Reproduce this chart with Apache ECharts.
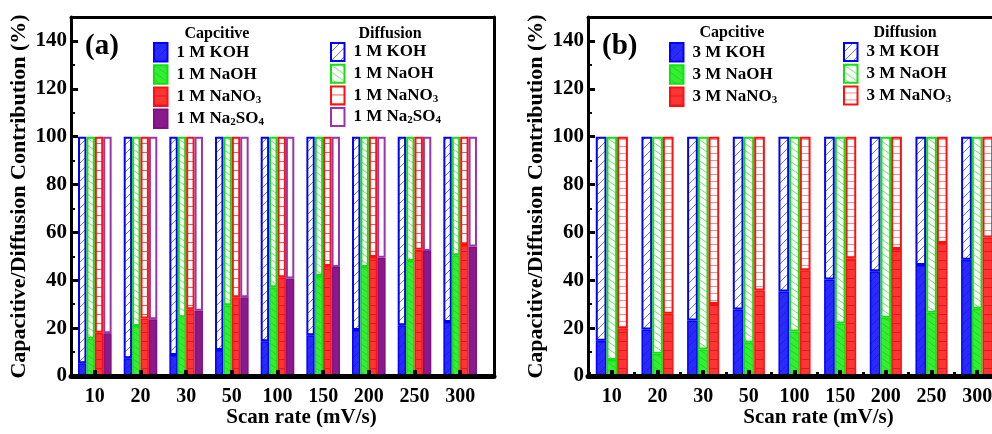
<!DOCTYPE html>
<html>
<head>
<meta charset="utf-8">
<script src="https://cdn.jsdelivr.net/npm/echarts@6/dist/echarts.min.js"></script>
<style>html,body{margin:0;padding:0;background:#fff}#c{width:992px;height:434px}</style>
</head>
<body>
<div id="c"></div>
<script>
const categories = ['10','20','30','50','100','150','200','250','300'];
const yTicks = [0,20,40,60,80,100,120,140];

// Panel (a): 1 M electrolytes
const capA_KOH    = [5.3, 7.4, 8.8, 10.9, 14.5, 17.0, 19.2, 21.2, 22.6];
const capA_NaOH   = [15.6, 20.9, 24.5, 29.6, 37.1, 41.8, 45.5, 48.0, 50.5];
const capA_NaNO3  = [18.1, 24.0, 27.9, 32.9, 41.3, 46.0, 49.7, 52.7, 54.7];
const capA_Na2SO4 = [17.9, 23.7, 27.3, 32.9, 40.7, 45.5, 49.4, 52.2, 54.1];
const difA_KOH    = [94.7, 92.6, 91.2, 89.1, 85.5, 83.0, 80.8, 78.8, 77.4];
const difA_NaOH   = [84.4, 79.1, 75.5, 70.4, 62.9, 58.2, 54.5, 52.0, 49.5];
const difA_NaNO3  = [81.9, 76.0, 72.1, 67.1, 58.7, 54.0, 50.3, 47.3, 45.3];
const difA_Na2SO4 = [82.1, 76.3, 72.7, 67.1, 59.3, 54.5, 50.6, 47.8, 45.9];

// Panel (b): 3 M electrolytes
const capB_KOH    = [14.7, 19.4, 23.2, 27.8, 35.3, 40.3, 43.8, 46.4, 48.6];
const capB_NaOH   = [6.7, 9.3, 11.1, 13.9, 18.6, 21.9, 24.3, 26.4, 28.1];
const capB_NaNO3  = [19.9, 26.0, 30.1, 35.7, 44.2, 49.2, 53.1, 55.6, 57.9];
const difB_KOH    = [85.3, 80.6, 76.8, 72.2, 64.7, 59.7, 56.2, 53.6, 51.4];
const difB_NaOH   = [93.3, 90.7, 88.9, 86.1, 81.4, 78.1, 75.7, 73.6, 71.9];
const difB_NaNO3  = [80.1, 74.0, 69.9, 64.3, 55.8, 50.8, 46.9, 44.4, 42.1];

const labelMap = {
  aCK: '1 M KOH', aCN: '1 M NaOH', aCO: '1 M NaNO{s|3}', aCS: '1 M Na{s|2}SO{s|4}',
  aDK: '1 M KOH', aDN: '1 M NaOH', aDO: '1 M NaNO{s|3}', aDS: '1 M Na{s|2}SO{s|4}',
  bCK: '3 M KOH', bCN: '3 M NaOH', bCO: '3 M NaNO{s|3}',
  bDK: '3 M KOH', bDN: '3 M NaOH', bDO: '3 M NaNO{s|3}'
};

const FONT = 'Liberation Serif';

function pat(kind, color, bg, w, h) {
  const c = document.createElement('canvas');
  c.width = w; c.height = h;
  const g = c.getContext('2d');
  g.fillStyle = bg; g.fillRect(0, 0, w, h);
  g.strokeStyle = color; g.lineWidth = 1;
  g.beginPath();
  if (kind === '/') {
    g.moveTo(0, h); g.lineTo(w, 0);
    g.moveTo(-w, h); g.lineTo(0, 0);
    g.moveTo(w, h); g.lineTo(2 * w, 0);
  } else if (kind === '\\') {
    g.moveTo(0, 0); g.lineTo(w, h);
    g.moveTo(-w, 0); g.lineTo(0, h);
    g.moveTo(w, 0); g.lineTo(2 * w, h);
  } else if (kind === '-') {
    g.moveTo(0, h - 0.5); g.lineTo(w, h - 0.5);
  }
  g.stroke();
  return { image: c, repeat: 'repeat' };
}

const C = {
  blue:   { fill: '#2a2aff', line: '#0000ff' },
  green:  { fill: '#33ee33', line: '#11e011' },
  red:    { fill: '#ff3535', line: '#ff1010' },
  purple: { fill: '#8a1a8a', line: '#7f0f85', dline: '#9a35b0' }
};

function capSeries(name, data, stack, col, xi, yi, bw, pattern) {
  return {
    name, type: 'bar', stack, data, xAxisIndex: xi, yAxisIndex: yi,
    barWidth: bw, barGap: '0%',
    itemStyle: { color: pattern || col.fill, borderColor: col.line, borderWidth: 1.5 },
    emphasis: { disabled: true }, animation: false
  };
}
function difSeries(name, data, stack, col, xi, yi, bw, pattern) {
  return {
    name, type: 'bar', stack, data, xAxisIndex: xi, yAxisIndex: yi,
    barWidth: bw, barGap: '0%',
    itemStyle: { color: pattern, borderColor: col.dline || col.line, borderWidth: 2 },
    emphasis: { disabled: true }, animation: false
  };
}

const pBlueD = pat('/', 'rgba(60,60,255,0.75)', '#ffffff', 9, 9);
const pGreenD = pat('\\', 'rgba(40,220,40,0.75)', '#ffffff', 10, 7);
const pRedD = pat('-', 'rgba(255,40,40,0.8)', '#ffffff', 8, 9);
const pRedDb = pat('-', 'rgba(255,60,60,0.6)', '#ffffff', 8, 7);
const pNone = pat('none', '#fff', '#ffffff', 4, 4);
const pBlueC = pat('/', 'rgba(20,20,200,0.5)', C.blue.fill, 9, 9);
const pGreenC = pat('\\', 'rgba(20,190,20,0.5)', C.green.fill, 10, 7);
const pRedC = pat('-', 'rgba(200,20,20,0.7)', C.red.fill, 8, 9);

const txt = (size, extra) => Object.assign({ fontFamily: FONT, fontWeight: 'bold', color: '#000', fontSize: size }, extra || {});
const richLegend = {
  s: { fontFamily: FONT, fontWeight: 'bold', fontSize: 11, color: '#000', verticalAlign: 'bottom', lineHeight: 11 }
};

function bandX(gi) {
  return {
    type: 'category', gridIndex: gi, data: categories, z: 10, position: 'bottom',
    axisLine: { show: false },
    axisTick: { show: true, inside: true, alignWithLabel: true, length: 6, lineStyle: { color: '#000', width: 4 } },
    axisLabel: txt(20, { margin: 11, interval: 0 }),
    name: 'Scan rate (mV/s)', nameLocation: 'middle', nameGap: 31, nameMoveOverlap: false,
    nameTextStyle: txt(21, { padding: [0, 0, 0, 48] }),
    splitLine: { show: false }
  };
}
function bandX2(gi) {
  return {
    type: 'category', gridIndex: gi, data: categories, z: 10, position: 'bottom',
    axisLine: { show: false },
    axisTick: { show: true, inside: true, alignWithLabel: false, length: 4, lineStyle: { color: '#000', width: 3 } },
    axisLabel: { show: false }, splitLine: { show: false }
  };
}
function valY(gi) {
  return {
    type: 'value', gridIndex: gi, min: 0, max: 150, interval: 20, z: 10,
    axisLine: { show: false },
    axisTick: { show: true, inside: true, length: 6, lineStyle: { color: '#000', width: 3 } },
    minorTick: { show: true, splitNumber: 2, length: 3, lineStyle: { color: '#000', width: 2 } },
    axisLabel: txt(21, { margin: 5, showMaxLabel: false,
      formatter: v => (yTicks.indexOf(v) >= 0 ? String(v) : '') }),
    splitLine: { show: false },
    name: 'Capacitive/Diffusion Contribution (%)', nameLocation: 'middle', nameGap: 42,
    nameTextStyle: txt(22)
  };
}
const frameX = (gi, pos, w) => ({ type: 'value', gridIndex: gi, position: pos, min: 0, max: 1, z: 11,
  axisLine: { show: true, onZero: false, lineStyle: { color: '#000', width: w } },
  axisTick: { show: false }, axisLabel: { show: false }, splitLine: { show: false } });
const frameY = (gi, pos, w) => ({ type: 'value', gridIndex: gi, position: pos, min: 0, max: 1, z: 11,
  axisLine: { show: true, onZero: false, lineStyle: { color: '#000', width: w } },
  axisTick: { show: false }, axisLabel: { show: false }, splitLine: { show: false } });

function legend(left, top, names, h, gap) {
  return {
    orient: 'vertical', left, top, itemWidth: 13.5, itemHeight: h, itemGap: gap, padding: 0,
    icon: 'rect', selectedMode: false, data: names,
    formatter: n => labelMap[n],
    textStyle: txt(17, { padding: [0, 0, 0, 4], lineHeight: 18, rich: richLegend })
  };
}

const G = (left, width) => ({ left, top: 17, width, height: 359, outerBoundsMode: 'none', containLabel: false });

const option = {
  backgroundColor: '#fff',
  animation: false,
  grid: [G(72, 411), G(71, 423), G(589, 411), G(588, 440)],
  xAxis: [
    bandX(0), bandX(2), bandX2(2),
    frameX(1, 'bottom', 5), frameX(1, 'top', 3),
    frameX(3, 'bottom', 5), frameX(3, 'top', 3)
  ],
  yAxis: [
    valY(0), valY(2),
    frameY(1, 'left', 3), frameY(1, 'right', 3),
    frameY(3, 'left', 3)
  ],
  title: [
    { text: '(a)', left: 80, top: 27, textStyle: txt(29) },
    { text: '(b)', left: 597, top: 27, textStyle: txt(29) },
    { text: 'Capcitive', left: 212, top: 21, textAlign: 'center', textStyle: txt(16) },
    { text: 'Diffusion', left: 385, top: 21, textAlign: 'center', textStyle: txt(16) },
    { text: 'Capcitive', left: 727, top: 20, textAlign: 'center', textStyle: txt(16) },
    { text: 'Diffusion', left: 900, top: 20, textAlign: 'center', textStyle: txt(16) }
  ],
  legend: [
    legend(153, 42, ['aCK', 'aCN', 'aCO', 'aCS'], 18.5, 1.7),
    legend(330, 42, ['aDK', 'aDN', 'aDO', 'aDS'], 18, 1.7),
    legend(669, 42, ['bCK', 'bCN', 'bCO'], 18.5, 1.7),
    legend(843, 42, ['bDK', 'bDN', 'bDO'], 18, 1.7)
  ],
  series: [
    capSeries('aCK', capA_KOH, 'a1', C.blue, 0, 0, 8.4, pBlueC),
    difSeries('aDK', difA_KOH, 'a1', C.blue, 0, 0, 8.4, pBlueD),
    capSeries('aCN', capA_NaOH, 'a2', C.green, 0, 0, 8.4, pGreenC),
    difSeries('aDN', difA_NaOH, 'a2', C.green, 0, 0, 8.4, pGreenD),
    capSeries('aCO', capA_NaNO3, 'a3', C.red, 0, 0, 8.4, pRedC),
    difSeries('aDO', difA_NaNO3, 'a3', C.red, 0, 0, 8.4, pRedD),
    capSeries('aCS', capA_Na2SO4, 'a4', C.purple, 0, 0, 8.4, null),
    difSeries('aDS', difA_Na2SO4, 'a4', C.purple, 0, 0, 8.4, pNone),

    capSeries('bCK', capB_KOH, 'b1', C.blue, 1, 1, 10.7, pBlueC),
    difSeries('bDK', difB_KOH, 'b1', C.blue, 1, 1, 10.7, pBlueD),
    capSeries('bCN', capB_NaOH, 'b2', C.green, 1, 1, 10.7, pGreenC),
    difSeries('bDN', difB_NaOH, 'b2', C.green, 1, 1, 10.7, pGreenD),
    capSeries('bCO', capB_NaNO3, 'b3', C.red, 1, 1, 10.7, pRedC),
    difSeries('bDO', difB_NaNO3, 'b3', C.red, 1, 1, 10.7, pRedDb)
  ]
};

const chart = echarts.init(document.getElementById('c'), null, { renderer: 'canvas' });
chart.setOption(option);
</script>
</body>
</html>
